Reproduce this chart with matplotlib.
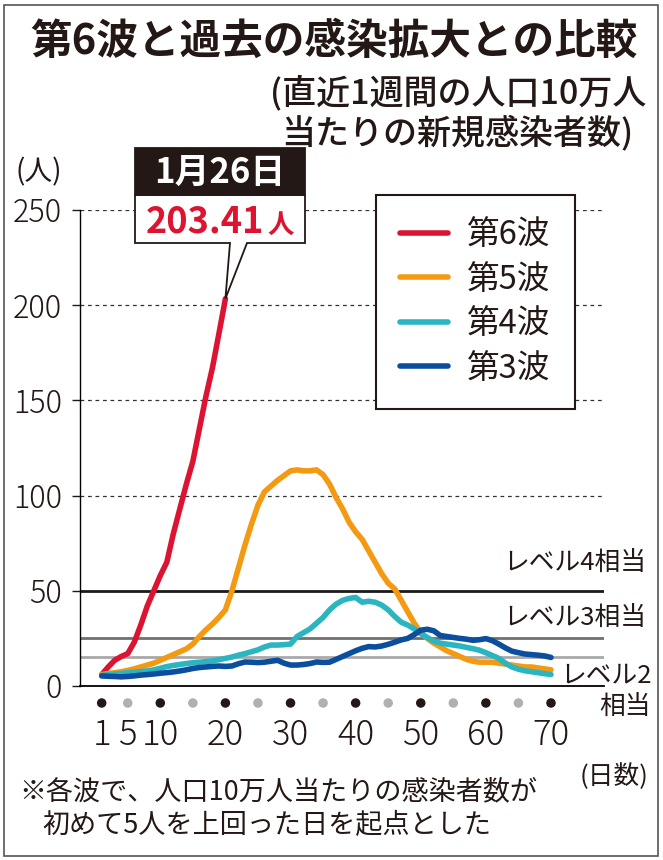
import matplotlib
matplotlib.use("Agg")
import matplotlib.pyplot as plt
import matplotlib.transforms as mtransforms
from matplotlib import font_manager
from matplotlib.patches import Rectangle, Polygon

JP = "Noto Sans CJK JP"
_names = {f.name for f in font_manager.fontManager.ttflist}
NUM = "Liberation Sans Narrow" if "Liberation Sans Narrow" in _names else JP
plt.rcParams["font.family"] = [JP, "DejaVu Sans"]

# data (per 100k people, 7-day total)
days = list(range(1, 71))
wave6 = [6, 10, 13.5, 15.5, 17, 23, 32, 42, 50, 58, 65, 80, 93, 106, 118,
         135, 152, 167, 185, 203.41]
wave5 = [6, 6.5, 7, 7.5, 8.2, 9, 10, 11, 12, 13.5, 15, 16.5, 18, 19.5, 22,
         26, 29.5, 32.5, 36, 40, 50, 62, 74, 85, 95, 102, 105, 108, 110.5, 113,
         113.5, 113, 113, 113.5, 111, 106, 99, 93, 86, 81, 77, 71, 65, 59, 54,
         51, 45, 39, 33, 28, 25, 22.5, 20.5, 18.5, 17, 15.5, 14, 13, 12.5, 12.5,
         12.5, 12, 11.5, 11, 10.5, 10, 10, 9.5, 9, 8.5]
wave4 = [5.5, 6, 6.3, 6.6, 7, 7.3, 7.6, 7.9, 8.5, 9.3, 10.2, 10.8, 11.3, 11.8,
         12.2, 12.5, 12.8, 13.2, 13.8, 14.5, 15.2, 16.2, 17, 18, 19, 20.5, 21.5,
         21.5, 21.7, 22, 26, 28, 30, 33, 36, 40, 43, 45, 46, 46.5, 44, 44.5, 44,
         42.5, 40, 36.5, 33.5, 32, 30, 27.5, 25.5, 23.5, 22.5, 22, 21.5, 21,
         20.3, 19.6, 18.8, 17.5, 16, 14.5, 12, 10, 8.8, 8, 7.5, 7, 6.5, 6]
wave3 = [5.3, 5.1, 5, 4.8, 5, 5.3, 5.7, 6, 6.3, 6.7, 7, 7.4, 7.9, 8.5, 9.2,
         9.7, 10, 10.3, 10.5, 10.3, 10.5, 11.7, 12.6, 12.5, 12.3, 12.5, 13,
         13.5, 12, 11, 11, 11.3, 11.8, 12.6, 12.4, 12.5, 14, 15.5, 17, 18.5,
         19.8, 20.7, 20.5, 21, 21.9, 23, 24.2, 25, 27, 29.3, 29.8, 29, 26.5, 26,
         25.5, 25, 24.6, 24, 24.3, 24.9, 23.8, 22, 20, 18.3, 17.5, 16.8, 16.5,
         16.2, 15.8, 15]
wave_names = ["第6波", "第5波", "第4波", "第3波"]
wave_colors = ["#dc1432", "#f39a12", "#2bb5c1", "#0b4e9e"]

levels = [50, 25, 15]
level_colors = ["#1a1a1a", "#707070", "#a9a9a9"]
grid_vals = [100, 150, 200, 250]
xtick_vals = [1, 5, 10, 20, 30, 40, 50, 60, 70]
dot_days = [1] + list(range(5, 71, 5))

W, H = 663, 860
fig = plt.figure(figsize=(W / 100, H / 100), dpi=100)


def fx(px):
    return px / W


def fy(py):
    return 1 - py / H


ax = fig.add_axes([fx(80), fy(686), fx(604) - fx(80), fy(210) - fy(686)])
ax.set_xlim(-2.33, 78.14)
ax.set_ylim(0, 250)
ax.spines["top"].set_visible(False)
ax.spines["right"].set_visible(False)
ax.spines["left"].set_linewidth(1.0)
ax.spines["bottom"].set_linewidth(1.3)

for g in grid_vals:
    ax.axhline(g, color="#333333", lw=0.9, ls=(0, (3, 3)), zorder=1)
for lv, lc in zip(levels, level_colors):
    ax.axhline(lv, color=lc, lw=2.0, zorder=2)

handles = []
for i, (w, c, n) in enumerate(zip([wave6, wave5, wave4, wave3], wave_colors, wave_names)):
    ln, = ax.plot(days[:len(w)], w, color=c, lw=4, label=n,
                  solid_joinstyle="round", solid_capstyle="round",
                  clip_on=False, zorder=3 + i)
    handles.append(ln)

ax.set_yticks(range(0, 251, 50))
ax.tick_params(axis="y", direction="out", length=6, width=1, pad=7,
               labelsize=22, colors="#231815")
ax.set_xticks(xtick_vals)
ax.tick_params(axis="x", length=0, pad=22, labelsize=25, colors="#231815")
for lab in ax.get_xticklabels() + ax.get_yticklabels():
    lab.set_fontfamily([NUM, JP])
    lab.set_fontweight("light")

# dot row under the x axis
trans = mtransforms.blended_transform_factory(ax.transData, ax.transAxes)
dot_cols = ["#231815" if (d == 1 or d % 10 == 0) else "#b0b0b0" for d in dot_days]
ax.scatter(dot_days, [-0.0357] * len(dot_days), s=34, c=dot_cols,
           transform=trans, clip_on=False, zorder=5)

leg = ax.legend(handles=handles, loc="upper left",
                bbox_to_anchor=(fx(376), fy(195)), bbox_transform=fig.transFigure,
                borderaxespad=0, fancybox=False, framealpha=1,
                edgecolor="#231815", borderpad=0.75, labelspacing=0.38,
                handlelength=1.45, handletextpad=0.6,
                prop={"family": JP, "size": 23.5})
leg.get_frame().set_linewidth(1.5)
for t in leg.get_texts():
    t.set_color("#231815")

# texts
ink = "#231815"
fig.text(fx(30), fy(42), "第6波と過去の感染拡大との比較", fontsize=30,
         weight="bold", va="center", ha="left", color=ink)
fig.text(fx(270), fy(93), "(直近1週間の人口10万人", fontsize=24.5,
         weight="medium", va="center", ha="left", color=ink)
fig.text(fx(281), fy(133), "当たりの新規感染者数)", fontsize=24.5,
         weight="medium", va="center", ha="left", color=ink)
fig.text(fx(15), fy(172), "(人)", fontsize=20, va="center", ha="left", color=ink)
fig.text(fx(503), fy(563), "レベル4相当", fontsize=18.5, va="center", color=ink)
fig.text(fx(503), fy(618), "レベル3相当", fontsize=18.5, va="center", color=ink)
fig.text(fx(560), fy(675), "レベル2", fontsize=18.5, va="center", color=ink)
fig.text(fx(599), fy(707), "相当", fontsize=18.5, va="center", color=ink)
fig.text(fx(580), fy(777), "(日数)", fontsize=18.5, va="center", color=ink)
fig.text(fx(19), fy(792), "※各波で、人口10万人当たりの感染者数が", fontsize=19.5,
         va="center", color=ink)
fig.text(fx(42), fy(826), "初めて5人を上回った日を起点とした", fontsize=19.5,
         va="center", color=ink)

# callout for the latest value
tip = fig.transFigure.inverted().transform(
    ax.transData.transform((days[len(wave6) - 1], wave6[-1])))
box = Polygon([(fx(135), fy(195)), (fx(305), fy(195)), (fx(305), fy(243)),
               (fx(247), fy(243)), tuple(tip), (fx(230), fy(243)),
               (fx(135), fy(243))], closed=True, transform=fig.transFigure,
              facecolor="white", edgecolor=ink, lw=1.3, zorder=10)
fig.patches.append(box)
head = Rectangle((fx(135), fy(195)), fx(305) - fx(135), fy(148) - fy(195),
                 transform=fig.transFigure, facecolor=ink, edgecolor=ink,
                 lw=1.3, zorder=11)
fig.patches.append(head)
fig.text(fx(220), fy(172), "1月26日", fontsize=25, weight="bold", color="white",
         ha="center", va="center", zorder=12)
fig.text(fx(264), fy(222), f"{wave6[-1]:.2f}", fontsize=26, weight="bold",
         color=wave_colors[0], ha="right", va="center", zorder=12)
fig.text(fx(267), fy(225), "人", fontsize=19, weight="bold",
         color=wave_colors[0], ha="left", va="center", zorder=12)

# outer frame
fig.patches.append(Rectangle((fx(4), fy(856)), fx(658) - fx(4), fy(5) - fy(856),
                             transform=fig.transFigure, fill=False,
                             edgecolor="#555555", lw=1.2, zorder=0))

fig.savefig("out.png", dpi=100)
